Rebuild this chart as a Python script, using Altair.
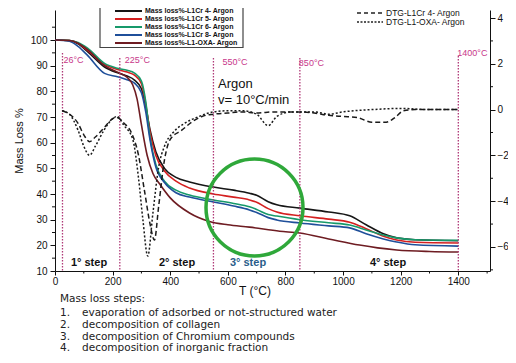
import altair as alt
import pandas as pd

# ---------------- data ----------------
series_names = ["Mass loss%-L1Cr 4- Argon", "Mass loss%-L1Cr 5- Argon",
                "Mass loss%-L1Cr 6- Argon", "Mass loss%-L1Cr 8- Argon",
                "Mass loss%-L1-OXA- Argon"]
series_colors = ["#161616", "#d42020", "#17996a", "#1f4f9a", "#6e1c22"]

T_CR = [0, 50, 80, 113, 172, 217, 250, 276, 300, 315, 330, 350, 380, 420, 467, 550,
        620, 675, 700, 740, 770, 850, 950, 1023, 1080, 1140, 1186, 1250, 1400]
m_cr4 = [100, 99.8, 98.5, 95.5, 89.5, 87.2, 86, 84.4, 81, 74, 65, 56.5, 50, 46.5, 44.7, 42.7,
         41.5, 40.3, 39.5, 37, 35.8, 34.5, 33, 31.5, 28, 24.5, 22.9, 22.2, 21.8]
m_cr5 = [100, 99.8, 98.8, 96, 90.5, 88.5, 87.5, 86.3, 83, 75, 64, 55, 49, 45, 42.3, 40,
         38.8, 37.7, 36.8, 34.3, 33, 31.5, 30.2, 29, 26.5, 23.5, 22.1, 21.2, 20.9]
m_cr6 = [100, 99.8, 99, 96.8, 90.9, 89, 88.2, 87.1, 84, 76, 62, 51.5, 45, 41.5, 39.6, 37.7,
         36.3, 35, 34, 32, 31.4, 30, 28.8, 27.9, 26, 24, 22.9, 22.2, 22]
m_cr8 = [100, 99.5, 97.5, 94, 87, 85.7, 84.5, 83.2, 79.5, 72, 61, 50.5, 44.5, 40.5, 38.8, 36.9,
         35.3, 33.8, 32.8, 30.8, 29.9, 28.7, 27.6, 26.8, 24.5, 22.5, 21.3, 20.2, 19.7]
T_OXA = [0, 50, 80, 113, 172, 217, 250, 270, 285, 300, 320, 340, 363, 400, 467, 536,
         600, 675, 780, 849, 950, 1057, 1120, 1186, 1300, 1400]
m_oxa = [100, 99.8, 98.8, 96.3, 90, 87.5, 85.5, 82.5, 77, 67, 55, 48, 44, 38.5, 32.6, 29.3,
         28, 27.1, 25.5, 24.8, 22.5, 20.1, 19, 18.2, 17.6, 17.4]

dtg_names = ["DTG-L1Cr 4- Argon", "DTG-L1-OXA- Argon"]
T_D4 = [25, 50, 80, 100, 120, 140, 170, 200, 215, 240, 265, 290, 310, 330, 345, 360, 380, 400,
        440, 480, 510, 550, 600, 650, 700, 760, 850, 900, 950, 1000, 1050, 1100, 1150, 1180,
        1210, 1250, 1300, 1400]
d_cr4 = [-0.05, -0.2, -0.6, -1.1, -1.4, -1.2, -0.8, -0.4, -0.35, -0.6, -1.0, -2.0, -3.5, -5.0,
         -5.7, -4.2, -2.2, -1.3, -0.9, -0.5, -0.3, -0.2, -0.15, -0.1, -0.15, -0.1, -0.1, -0.15,
         -0.25, -0.3, -0.35, -0.55, -0.55, -0.35, -0.05, 0.0, 0.0, 0.0]
T_DO = [25, 50, 80, 100, 120, 140, 170, 200, 215, 240, 270, 290, 305, 322, 340, 360, 380, 410,
        450, 500, 550, 600, 650, 700, 740, 770, 820, 900, 950, 1000, 1100, 1200, 1300, 1400]
d_oxa = [-0.05, -0.2, -0.9, -1.6, -2.0, -1.6, -0.9, -0.4, -0.3, -0.7, -1.3, -3.0, -4.8, -6.4,
         -4.5, -2.5, -1.6, -1.0, -0.6, -0.3, -0.1, -0.05, -0.05, -0.2, -0.7, -0.3, -0.1, -0.1,
         -0.2, -0.1, 0.0, 0.05, 0.0, 0.0]

marker_T = [26, 225, 550, 850, 1400]
marker_labels = ["26°C", "225°C", "550°C", "850°C", "1400°C"]
step_labels = ["1° step", "2° step", "3° step", "4° step"]
x_ticks = [0, 200, 400, 600, 800, 1000, 1200, 1400]
x_minor = [100, 300, 500, 700, 900, 1100, 1300, 1500]
y_ticks = [10, 20, 30, 40, 50, 60, 70, 80, 90, 100]
y_minor = [15, 25, 35, 45, 55, 65, 75, 85, 95, 105]
r_ticks = [-6, -4, -2, 0, 2, 4]
r_minor = [-7, -5, -3, -1, 1, 3]
notes_title = "Mass loss steps:"
notes = ["evaporation of adsorbed or not-structured water",
         "decomposition of collagen",
         "decomposition of Chromium compounds",
         "decomposition of inorganic fraction"]

# ---------------- layout ----------------
W, H = 435, 261
X_DOMAIN = [0, 1510]
ML_DOMAIN = [10, 111.7]
DTG_DOMAIN = [-7.05, 4.35]
AXF = "Liberation Sans"
PINK = "#c8378a"

x_scale = alt.Scale(domain=X_DOMAIN, nice=False, zero=False)
y_scale = alt.Scale(domain=ML_DOMAIN, nice=False, zero=False)
r_scale = alt.Scale(domain=DTG_DOMAIN, nice=False, zero=False)

rows = []
for name, ts, ms in zip(series_names, [T_CR, T_CR, T_CR, T_CR, T_OXA],
                        [m_cr4, m_cr5, m_cr6, m_cr8, m_oxa]):
    for t, m in zip(ts, ms):
        rows.append({"series": name, "T": t, "M": m})
ml_df = pd.DataFrame(rows)

drows = []
for name, ts, ds in zip(dtg_names, [T_D4, T_DO], [d_cr4, d_oxa]):
    for t, d in zip(ts, ds):
        drows.append({"series": name, "T": t, "v": d})
dtg_df = pd.DataFrame(drows)

x_axis = alt.Axis(values=x_ticks, format="d", title=None, grid=False, tickSize=4,
                  labelPadding=1, labelFontSize=10, labelFont=AXF, labelColor="#111",
                  domainColor="#111", tickColor="#111", labelFlush=False)
y_axis = alt.Axis(values=y_ticks, title="Mass Loss %", titleFont=AXF, titleFontSize=11,
                  titleFontWeight="normal", titleColor="#111", titlePadding=6, grid=False,
                  tickSize=5, labelPadding=3, labelFontSize=10, labelFont=AXF,
                  labelColor="#111", domainColor="#111", tickColor="#111")
r_axis = alt.Axis(orient="right", values=r_ticks, title=None, grid=False, tickSize=5,
                  labelPadding=2, labelFontSize=10, labelFont=AXF, labelColor="#111",
                  domainColor="#111", tickColor="#111")

X = lambda: alt.X("T:Q", scale=x_scale, axis=x_axis)

color_scale = alt.Scale(domain=series_names, range=series_colors)

ml_lines = alt.Chart(ml_df).mark_line(strokeWidth=1.6, interpolate="monotone").encode(
    x=X(),
    y=alt.Y("M:Q", scale=y_scale, axis=y_axis),
    color=alt.Color("series:N", scale=color_scale, legend=None),
)

x_minor_l = alt.Chart(pd.DataFrame({"T": x_minor})).mark_rule(color="#111").encode(
    x=X(), y=alt.value(H), y2=alt.value(H + 2.5))
y_minor_l = alt.Chart(pd.DataFrame({"M": y_minor})).mark_rule(color="#111").encode(
    y=alt.Y("M:Q", scale=y_scale, axis=y_axis), x=alt.value(0), x2=alt.value(-3))

layers = [ml_lines, x_minor_l, y_minor_l]

# vertical marker lines + labels
line_tops = [43, 48, 48, 48, 46]
label_y = [50, 50, 52, 53, 43]
label_dx = [1, 5, 9, -1, -1]
for t, lab, top, ly, dx in zip(marker_T, marker_labels, line_tops, label_y, label_dx):
    d = pd.DataFrame({"T": [t], "lab": [lab]})
    layers.append(alt.Chart(d).mark_rule(color="#b03a78", strokeDash=[1.5, 1.5],
                                         strokeWidth=1.3).encode(
        x=X(), y=alt.value(top), y2=alt.value(H)))
    layers.append(alt.Chart(d).mark_text(align="left", baseline="middle", dx=dx, fontSize=9,
                                         font=AXF, color=PINK).encode(
        x=X(), y=alt.value(ly), text="lab:N"))


def txt(s, x, y, **kw):
    return alt.Chart(pd.DataFrame({"s": [s]})).mark_text(**kw).encode(
        x=alt.value(x), y=alt.value(y), text="s:N")


# step labels
step_x = [34, 122, 193, 333]
step_col = ["#111", "#111", "#2a5d8a", "#111"]
for s, sx, c in zip(step_labels, step_x, step_col):
    layers.append(txt(s, sx, 253, align="center", baseline="middle", fontSize=11,
                      fontWeight="bold", font=AXF, color=c))

# Argon annotation
layers.append(txt("Argon", 163, 74, align="left", baseline="middle", fontSize=13, font=AXF,
                  color="#111"))
layers.append(txt("v= 10°C/min", 163, 90, align="left", baseline="middle", fontSize=13,
                  font=AXF, color="#111"))

# green circle
layers.append(alt.Chart(pd.DataFrame({"c": [1]})).mark_point(
    shape="circle", size=97 * 97, filled=False, color="#2fa83a", strokeWidth=3.5,
    opacity=1).encode(x=alt.value(199.5), y=alt.value(197.5)))

# mass loss legend box
layers.append(alt.Chart(pd.DataFrame({"c": [1]})).mark_rect(
    fill="white", stroke="#444", strokeWidth=1.2).encode(
    x=alt.value(45), x2=alt.value(188), y=alt.value(-20), y2=alt.value(37.5)))
leg_rows = [1, 9, 17, 25, 33]
for name, col, ry in zip(series_names, series_colors, leg_rows):
    d = pd.DataFrame({"series": [name]})
    layers.append(alt.Chart(d).mark_rule(strokeWidth=2).encode(
        x=alt.value(60), x2=alt.value(87), y=alt.value(ry), y2=alt.value(ry),
        color=alt.Color("series:N", scale=color_scale, legend=None)))
    layers.append(txt(name, 90, ry, align="left", baseline="middle", fontSize=7,
                      fontWeight="bold", font=AXF, color="#111"))

# DTG legend
dtg_rows = [3, 12]
dtg_dash = [[4, 3], [2, 1.5]]
for name, ry, dash in zip(dtg_names, dtg_rows, dtg_dash):
    layers.append(alt.Chart(pd.DataFrame({"c": [1]})).mark_rule(
        strokeWidth=1.3, color="#222", strokeDash=dash).encode(
        x=alt.value(302), x2=alt.value(328), y=alt.value(ry), y2=alt.value(ry)))
    layers.append(txt(name, 331, ry, align="left", baseline="middle", fontSize=8.5,
                      font=AXF, color="#111"))

# x axis title and notes below the plot
layers.append(txt("T (°C)", 200, 281, align="center", baseline="middle", fontSize=12,
                  font=AXF, color="#111"))
NF = "DejaVu Sans"
layers.append(txt(notes_title, 5, 289, align="left", baseline="middle", fontSize=10.5,
                  font=NF, color="#222"))
note_y = [302.5, 314.5, 326.5, 338]
for i, (s, ny) in enumerate(zip(notes, note_y)):
    layers.append(txt(f"{i + 1}.", 5, ny, align="left", baseline="middle", fontSize=10.5,
                      font=NF, color="#222"))
    layers.append(txt(s, 27, ny, align="left", baseline="middle", fontSize=10.5,
                      font=NF, color="#222"))

left = alt.layer(*layers)

dtg_lines = alt.Chart(dtg_df).mark_line(strokeWidth=1.5, color="#1a1a1a",
                                        interpolate="monotone").encode(
    x=X(),
    y=alt.Y("v:Q", scale=r_scale, axis=r_axis),
    strokeDash=alt.StrokeDash("series:N", scale=alt.Scale(domain=dtg_names,
                                                          range=[[5, 3], [2, 2]]),
                              legend=None),
)
r_minor_l = alt.Chart(pd.DataFrame({"v": r_minor})).mark_rule(color="#111").encode(
    y=alt.Y("v:Q", scale=r_scale, axis=r_axis), x=alt.value(W), x2=alt.value(W + 3))
right = alt.layer(dtg_lines, r_minor_l)

chart = alt.layer(left, right).resolve_scale(y="independent").properties(
    width=W, height=H,
    autosize=alt.AutoSizeParams(type="none"),
    padding={"left": 47, "top": 2, "right": 18, "bottom": 84},
    background="white",
).configure_view(stroke=None)

chart.save("out.html", embed_options={"renderer": "svg", "actions": False})
